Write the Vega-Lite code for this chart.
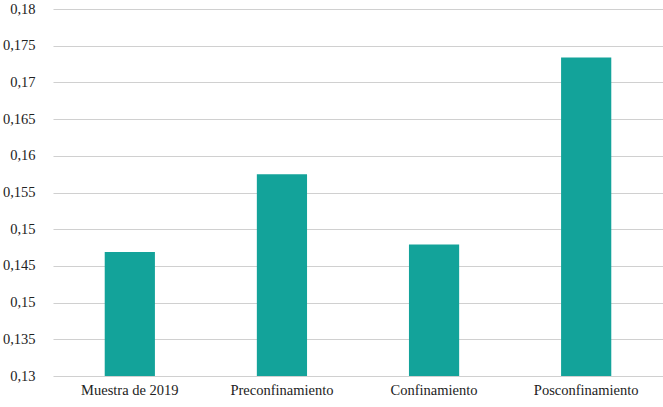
{
  "$schema": "https://vega.github.io/schema/vega-lite/v6.json",
  "width": 663,
  "height": 407,
  "autosize": {"type": "fit", "contains": "padding"},
  "padding": {"left": 2, "top": 1, "right": 0, "bottom": 10},
  "background": "white",
  "config": {
    "view": {"stroke": null},
    "font": "Liberation Serif",
    "axis": {
      "labelFont": "Liberation Serif",
      "labelFontSize": 14.5,
      "labelColor": "#222222",
      "gridColor": "#d0d0d0",
      "gridWidth": 1.2
    }
  },
  "data": {
    "values": [
      {"periodo": "Muestra de 2019", "valor": 0.1469},
      {"periodo": "Preconfinamiento", "valor": 0.1575},
      {"periodo": "Confinamiento", "valor": 0.1479},
      {"periodo": "Posconfinamiento", "valor": 0.1734}
    ]
  },
  "mark": {"type": "bar", "color": "#13a39a", "clip": true},
  "encoding": {
    "x": {
      "field": "periodo",
      "type": "nominal",
      "sort": null,
      "scale": {"paddingInner": 0.67, "paddingOuter": 0.34},
      "axis": {
        "title": null,
        "labelAngle": 0,
        "ticks": false,
        "domain": false,
        "labelPadding": 7
      }
    },
    "y": {
      "field": "valor",
      "type": "quantitative",
      "scale": {"domain": [0.13, 0.18], "nice": false, "zero": false},
      "axis": {
        "title": null,
        "values": [0.13, 0.135, 0.14, 0.145, 0.15, 0.155, 0.16, 0.165, 0.17, 0.175, 0.18],
        "labelExpr": "datum.value < 0.1405 && datum.value > 0.1395 ? '0,15' : replace(format(datum.value, '.3~f'), '.', ',')",
        "ticks": false,
        "domain": false,
        "labelPadding": 18
      }
    }
  }
}
